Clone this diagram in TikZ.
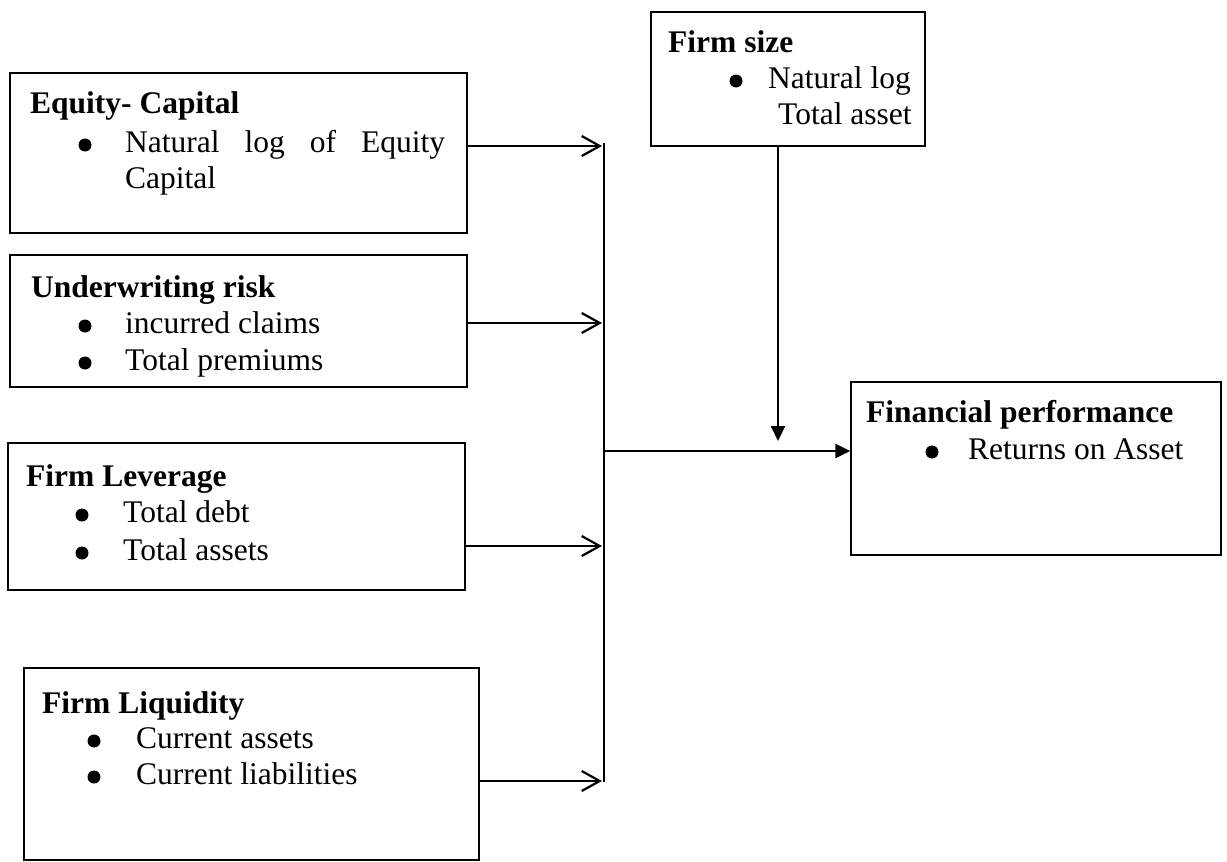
\documentclass[tikz,border=0pt]{standalone}
\usepackage{fontspec}
\setmainfont{Liberation Serif}
\usetikzlibrary{arrows.meta}
\begin{document}
\begin{tikzpicture}[x=1pt,y=-1pt,
 box/.style={draw,line width=1.3pt,inner sep=0},
 txt/.style={anchor=base west,inner sep=0,font=\fontsize{31.5}{36}\selectfont},
 ttl/.style={anchor=base west,inner sep=0,font=\fontsize{31.5}{36}\selectfont\bfseries},
 bul/.style={circle,fill,inner sep=0,minimum size=13pt},
 barb/.style={line width=2.2pt,-{Straight Barb[length=18pt,width=20pt,line width=2.2pt]}},
 tri/.style={line width=2.2pt,-{Triangle[length=15pt,width=14pt]}},
 bus/.style={line width=1.8pt}]
\useasboundingbox (0,0) rectangle (1227,862);
% boxes
\node[box,minimum width=457pt,minimum height=160pt] (eq) at (238.5,153) {};
\node[box,minimum width=457pt,minimum height=132pt] (uw) at (238.5,321) {};
\node[box,minimum width=457pt,minimum height=147pt] (lv) at (236.5,516.5) {};
\node[box,minimum width=455pt,minimum height=192pt] (lq) at (251.5,764) {};
\node[box,minimum width=274pt,minimum height=134pt] (fs) at (788,79) {};
\node[box,minimum width=370pt,minimum height=173pt] (fp) at (1036,468.5) {};
% equity
\node[ttl] (eqT) at (30,113) {Equity- Capital};
\node[bul] (eqB) at (85,145) {};
\node[txt] (eq1) at (125,152) {\makebox[320pt][s]{Natural log of Equity}};
\node[txt] (eq2) at (125,188) {Capital};
% underwriting
\node[ttl] (uwT) at (31,297) {Underwriting risk};
\node[bul] (uwB1) at (85,326) {};
\node[txt] (uw1) at (125,333) {incurred claims};
\node[bul] (uwB2) at (85,363) {};
\node[txt] (uw2) at (125,370) {Total premiums};
% leverage
\node[ttl] (lvT) at (26,486) {Firm Leverage};
\node[bul] (lvB1) at (82,515) {};
\node[txt] (lv1) at (123,522) {Total debt};
\node[bul] (lvB2) at (82,553) {};
\node[txt] (lv2) at (123,560) {Total assets};
% liquidity
\node[ttl] (lqT) at (42,713) {Firm Liquidity};
\node[bul] (lqB1) at (94,741) {};
\node[txt] (lq1) at (136,748) {Current assets};
\node[bul] (lqB2) at (94,777) {};
\node[txt] (lq2) at (136,784) {Current liabilities};
% firm size
\node[ttl] (fsT) at (668,52) {Firm size};
\node[bul] (fsB) at (736,81) {};
\node[txt] (fs1) at (768,88) {Natural log};
\node[txt] (fs2) at (778,124) {Total asset};
% financial performance
\node[ttl] (fpT) at (866,422) {Financial performance};
\node[bul] (fpB) at (932,452) {};
\node[txt] (fp1) at (968,459) {Returns on Asset};
% connectors
\coordinate (t1) at (602,146);
\coordinate (t2) at (602,323);
\coordinate (t3) at (602,546);
\coordinate (t4) at (602,781);
\draw[barb] (eq.east |- t1) -- (t1);
\draw[barb] (uw.east |- t2) -- (t2);
\draw[barb] (lv.east |- t3) -- (t3);
\draw[barb] (lq.east |- t4) -- (t4);
\coordinate (bt) at (604,143);
\coordinate (bb) at (604,782);
\draw[bus] (bt) -- (bb);
\coordinate (m) at (604,451);
\draw[tri] (m) -- (fp.west |- m);
\coordinate (sz) at (778,441);
\draw[tri] (fs.south -| sz) -- (sz);
\end{tikzpicture}
\end{document}
